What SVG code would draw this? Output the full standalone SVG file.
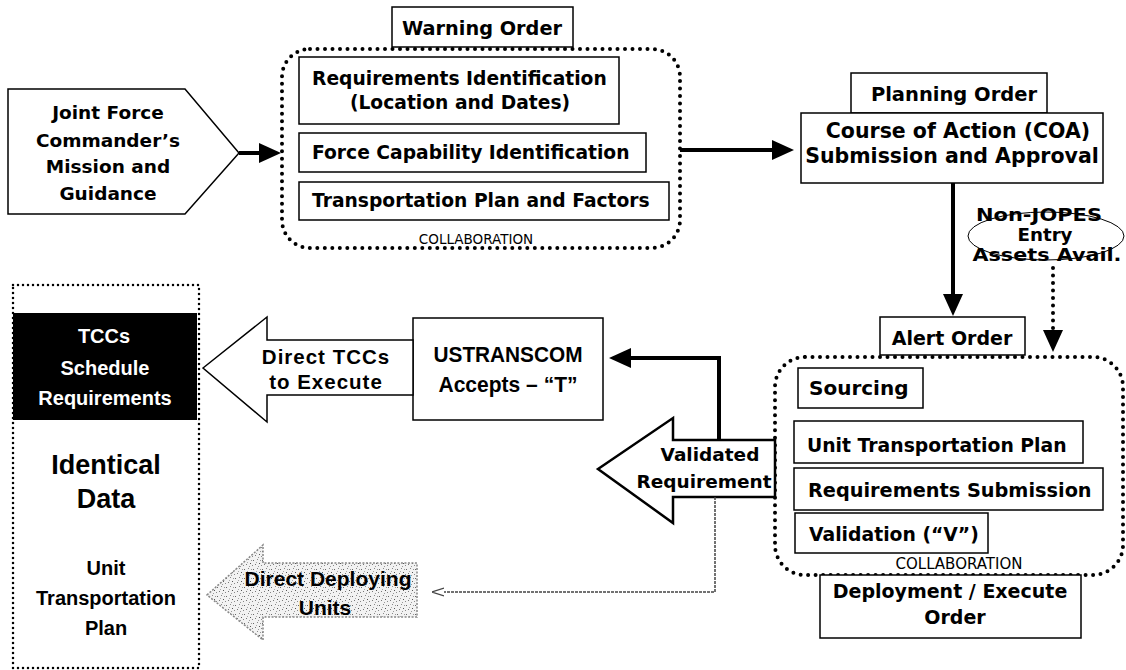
<svg xmlns="http://www.w3.org/2000/svg" width="1126" height="670" viewBox="0 0 1126 670">
<defs>
<style>
.t{font-family:"DejaVu Sans",Verdana,sans-serif;font-weight:bold;fill:#000}
.a{font-family:"Liberation Sans",Arial,sans-serif;font-weight:bold;fill:#000}
.r{font-family:"DejaVu Sans",Verdana,sans-serif;fill:#000}
.c{text-anchor:middle}
.w{fill:#fff}
.box{fill:#fff;stroke:#000;stroke-width:1.5}
.dot{fill:none;stroke:#000;stroke-width:4;stroke-dasharray:0 7.5;stroke-linecap:round}
.sdot{fill:none;stroke:#000;stroke-width:2.5;stroke-dasharray:0 5;stroke-linecap:round}
.conn{fill:none;stroke:#000;stroke-width:4}
</style>
<marker id="ah" markerUnits="userSpaceOnUse" markerWidth="22" markerHeight="20" refX="0" refY="10" orient="auto" viewBox="0 0 22 20"><path d="M0,0 L22,10 L0,20 z" fill="#000"/></marker>
<marker id="ahs" markerUnits="userSpaceOnUse" markerWidth="12" markerHeight="10" refX="0" refY="5" orient="auto" viewBox="0 0 12 10"><path d="M0,1 L12,5 L0,9" fill="none" stroke="#444" stroke-width="1.2"/></marker>
<pattern id="grain" width="9" height="9" patternUnits="userSpaceOnUse">
<rect width="9" height="9" fill="#f2f2f2"/>
<rect x="1" y="2" width="1" height="1" fill="#666"/>
<rect x="5" y="1" width="1" height="1" fill="#888"/>
<rect x="3" y="6" width="1" height="1" fill="#777"/>
<rect x="7" y="5" width="1" height="1" fill="#555"/>
<rect x="6" y="8" width="1" height="1" fill="#999"/>
<rect x="0" y="7" width="1" height="1" fill="#888"/>
<rect x="4" y="4" width="1" height="1" fill="#aaa"/>
<rect x="8" y="2" width="1" height="1" fill="#999"/>
</pattern>
</defs>
<rect width="1126" height="670" fill="#fff"/>

<g id="jfc">
<polygon points="8,89 185,89 239,153 185,214 8,214" fill="#fff" stroke="#000" stroke-width="1.5"/>
<text class="t c" x="108" y="119" font-size="18.5">Joint Force</text>
<text class="t c" x="108" y="147" font-size="18.5">Commander’s</text>
<text class="t c" x="108" y="173" font-size="18.5">Mission and</text>
<text class="t c" x="108" y="200" font-size="18.5">Guidance</text>
</g>

<g id="warning">
<rect class="dot" x="282" y="49" width="398" height="199" rx="28"/>
<rect class="box" x="392" y="7" width="181" height="40"/>
<text class="t c" x="482" y="35" font-size="19.3">Warning Order</text>
<rect class="box" x="299" y="57" width="320" height="67"/>
<text class="t" x="312" y="85" font-size="18.7">Requirements Identification</text>
<text class="t c" x="460" y="109" font-size="18.7">(Location and Dates)</text>
<rect class="box" x="299" y="133" width="347" height="39"/>
<text class="t" x="312" y="159" font-size="18.7">Force Capability Identification</text>
<rect class="box" x="299" y="182" width="370" height="38"/>
<text class="t" x="312" y="207" font-size="18.7">Transportation Plan and Factors</text>
<text class="r c" x="476" y="244" font-size="13.5">COLLABORATION</text>
</g>

<g id="planning">
<rect class="box" x="851" y="73" width="196" height="40"/>
<text class="t c" x="954" y="101" font-size="19.5">Planning Order</text>
<rect class="box" x="801" y="113" width="302" height="70"/>
<text class="t c" x="958" y="138" font-size="20.5">Course of Action (COA)</text>
<text class="t c" x="952" y="163" font-size="20.5">Submission and Approval</text>
</g>

<g id="nonjopes">
<ellipse cx="1046" cy="236" rx="78" ry="24" fill="none" stroke="#000" stroke-width="1"/>
<text class="t c" x="1039" y="221" font-size="17" textLength="126" lengthAdjust="spacingAndGlyphs">Non-JOPES</text>
<text class="t c" x="1045" y="241" font-size="17" textLength="55" lengthAdjust="spacingAndGlyphs">Entry</text>
<text class="t c" x="1047" y="261" font-size="17" textLength="149" lengthAdjust="spacingAndGlyphs">Assets Avail.</text>
</g>

<g id="alert">
<rect class="dot" x="775" y="357" width="348" height="218" rx="30"/>
<rect class="box" x="880" y="317" width="145" height="38"/>
<text class="t c" x="952" y="345" font-size="19">Alert Order</text>
<rect class="box" x="798" y="368" width="125" height="40"/>
<text class="t" x="809" y="395" font-size="20">Sourcing</text>
<rect class="box" x="794" y="421" width="289" height="42"/>
<text class="t" x="807" y="452" font-size="18.8">Unit Transportation Plan</text>
<rect class="box" x="794" y="468" width="309" height="42"/>
<text class="t" x="808" y="497" font-size="19.3">Requirements Submission</text>
<rect class="box" x="795" y="513" width="193" height="40"/>
<text class="t" x="809" y="541" font-size="18.8">Validation (“V”)</text>
<text class="r c" x="959" y="569" font-size="15">COLLABORATION</text>
<rect class="box" x="820" y="575" width="261" height="63"/>
<text class="t c" x="950" y="598" font-size="19">Deployment / Execute</text>
<text class="t c" x="955" y="624" font-size="19">Order</text>
</g>

<g id="validated">
<polygon points="598,469 673,418 673,440 775,440 775,497 673,497 673,523" fill="#fff" stroke="#000" stroke-width="2.5"/>
<text class="t c" x="710" y="461" font-size="18.5">Validated</text>
<text class="t c" x="704" y="488" font-size="18.5">Requirement</text>
</g>

<g id="ustranscom">
<rect class="box" x="413" y="318" width="190" height="102"/>
<text class="a c" x="508" y="362" font-size="22" textLength="149" lengthAdjust="spacingAndGlyphs">USTRANSCOM</text>
<text class="a c" x="508" y="392" font-size="22" textLength="139" lengthAdjust="spacingAndGlyphs">Accepts – “T”</text>
</g>

<g id="direct-tccs">
<polygon points="203,368 267,317 267,340 413,340 413,395 267,395 267,422" fill="#fff" stroke="#000" stroke-width="1.5"/>
<text class="a c" x="326" y="364" font-size="20.5" letter-spacing="1">Direct TCCs</text>
<text class="a c" x="326" y="389" font-size="20.5" letter-spacing="1">to Execute</text>
</g>

<g id="direct-deploying">
<polygon points="207,595 263,545 263,563 417,563 417,617 263,617 263,640" fill="url(#grain)" stroke="#888" stroke-width="1.5" stroke-dasharray="2 1.5"/>
<text class="a c" x="328" y="586" font-size="21" textLength="167" lengthAdjust="spacingAndGlyphs">Direct Deploying</text>
<text class="a c" x="325" y="615" font-size="21">Units</text>
</g>

<g id="data-panel">
<rect class="sdot" x="13" y="285" width="186" height="383"/>
<rect x="13" y="313" width="184" height="107" fill="#000"/>
<text class="a c w" x="104" y="343" font-size="20">TCCs</text>
<text class="a c w" x="105" y="375" font-size="20">Schedule</text>
<text class="a c w" x="105" y="405" font-size="20">Requirements</text>
<text class="a c" x="106" y="474" font-size="27">Identical</text>
<text class="a c" x="106" y="508" font-size="27">Data</text>
<text class="a c" x="106" y="575" font-size="20">Unit</text>
<text class="a c" x="106" y="605" font-size="20">Transportation</text>
<text class="a c" x="106" y="635" font-size="20">Plan</text>
</g>

<g id="connectors">
<line class="conn" x1="239" y1="153" x2="259" y2="153" marker-end="url(#ah)"/>
<line class="conn" x1="680" y1="150" x2="772" y2="150" marker-end="url(#ah)"/>
<line class="conn" x1="953" y1="183" x2="953" y2="294" marker-end="url(#ah)"/>
<line class="dot" x1="1053" y1="268" x2="1053" y2="330" stroke-dasharray="0 7" marker-end="url(#ah)"/>
<polyline class="conn" points="719,440 719,358 631,358" marker-end="url(#ah)"/>
<polyline points="715,497 715,592 444,592" fill="none" stroke="#444" stroke-width="1.5" stroke-dasharray="3 1" marker-end="url(#ahs)"/>
</g>
</svg>
